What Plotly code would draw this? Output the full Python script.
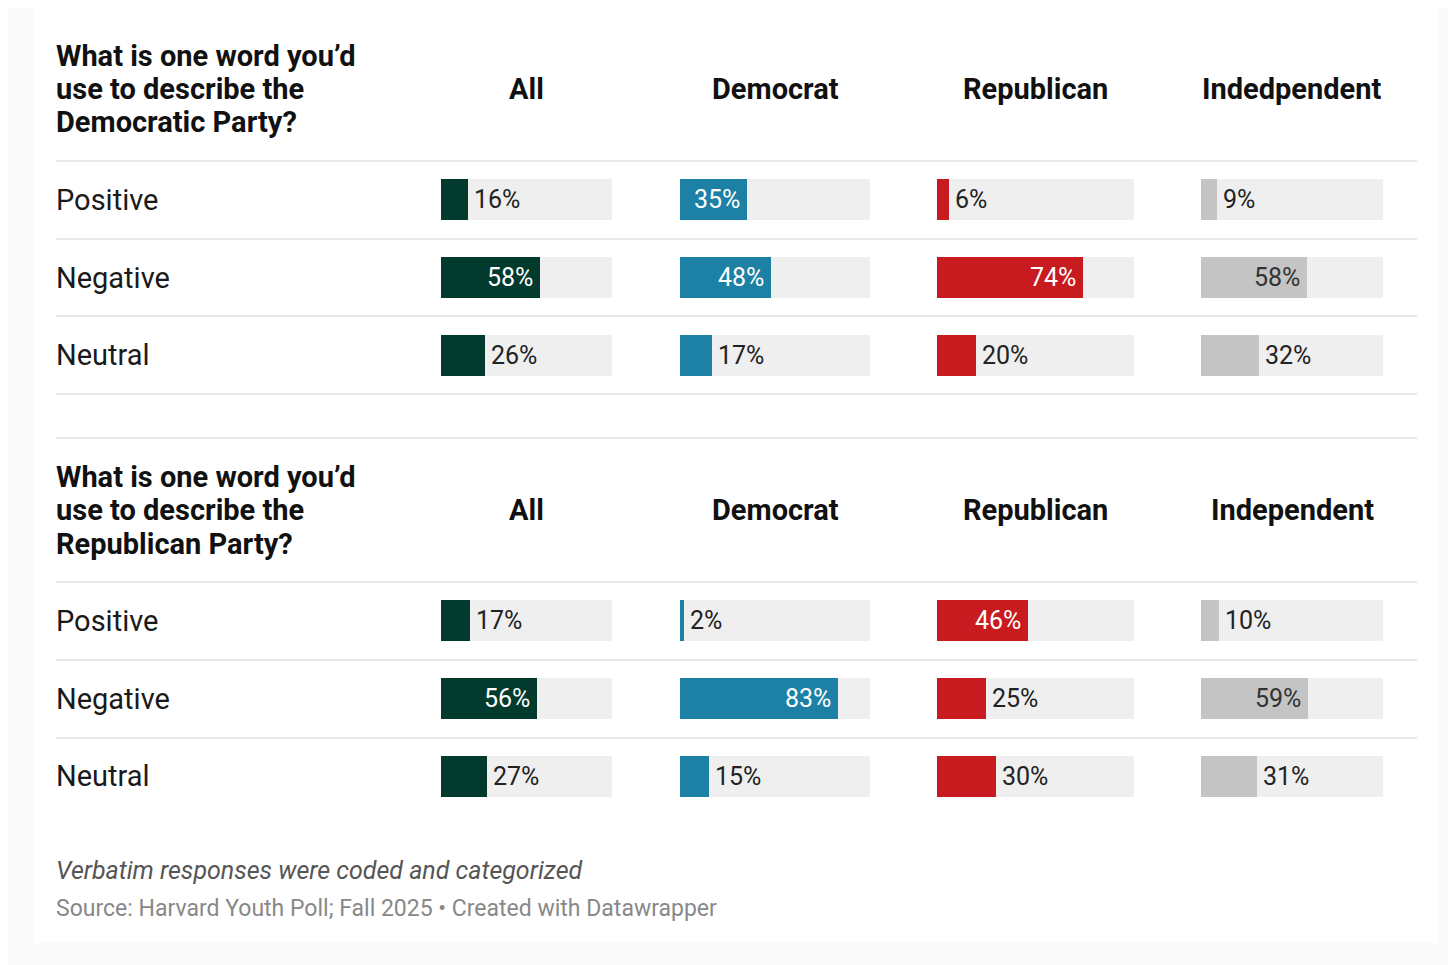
import plotly.graph_objects as go

# the page puts the figure 8px in from the top-left corner
OFF = 8
W, H = 1456 - OFF, 965 - OFF

# ---------------- data ----------------
categories = ["Positive", "Negative", "Neutral"]
headers_dem = ["All", "Democrat", "Republican", "Indedpendent"]
headers_rep = ["All", "Democrat", "Republican", "Independent"]
title_dem = ["What is one word you’d", "use to describe the", "Democratic Party?"]
title_rep = ["What is one word you’d", "use to describe the", "Republican Party?"]

dem_all = [16, 58, 26]
dem_dem = [35, 48, 17]
dem_rep = [6, 74, 20]
dem_ind = [9, 58, 32]

rep_all = [17, 56, 27]
rep_dem = [2, 83, 15]
rep_rep = [46, 25, 30]
rep_ind = [10, 59, 31]

note = "Verbatim responses were coded and categorized"
source = "Source: Harvard Youth Poll; Fall 2025 • Created with Datawrapper"

# ---------------- styling / layout ----------------
bar_colors = ["#023a2e", "#1c81a4", "#c81b1f", "#c4c4c4"]
inside_text_colors = ["#ffffff", "#ffffff", "#ffffff", "#333333"]
track_color = "#efefef"
line_color = "#e8e8e8"
FONT = "Roboto"

col_px = [(441, 612), (680, 870), (937, 1134), (1201, 1383)]
panel_px = [(161, 394), (582, 815)]
title_y = [(56, 89, 122), (477, 510, 544)]
header_y = [89, 510]
line_rows = [[161, 239, 316, 394], [438, 582, 660, 738]]


def px(x):
    return (x - OFF) / W


def py(y):
    return 1 - (y - OFF) / H


panels = [
    (title_dem, headers_dem, [dem_all, dem_dem, dem_rep, dem_ind]),
    (title_rep, headers_rep, [rep_all, rep_dem, rep_rep, rep_ind]),
]

fig = go.Figure()
annotations = []
shapes = []

# card background
shapes.append(dict(type="rect", xref="paper", yref="paper", x0=px(34), x1=px(1438),
                   y0=py(943), y1=1, fillcolor="#ffffff", line=dict(width=0), layer="below"))

idx = 0
for p, (title, headers, series) in enumerate(panels):
    y0, y1 = panel_px[p]
    for c, vals in enumerate(series):
        idx += 1
        xa = "x" if idx == 1 else f"x{idx}"
        ya = "y" if idx == 1 else f"y{idx}"
        xk = "xaxis" if idx == 1 else f"xaxis{idx}"
        yk = "yaxis" if idx == 1 else f"yaxis{idx}"
        x0, x1 = col_px[c]
        fig.add_trace(go.Bar(y=categories, x=[100] * len(categories), orientation="h",
                             marker=dict(color=track_color, line=dict(width=0)),
                             width=0.53, xaxis=xa, yaxis=ya, hoverinfo="skip", showlegend=False))
        fig.add_trace(go.Bar(y=categories, x=vals, orientation="h",
                             marker=dict(color=bar_colors[c], line=dict(width=0)),
                             width=0.53, xaxis=xa, yaxis=ya, showlegend=False,
                             hovertemplate="%{y}: %{x}%<extra></extra>"))
        fig.layout[xk] = dict(domain=[px(x0), px(x1)], range=[0, 100], visible=False,
                              fixedrange=True, anchor=ya)
        fig.layout[yk] = dict(domain=[py(y1), py(y0)], type="category",
                              categoryarray=categories, range=[2.5, -0.5], visible=False,
                              fixedrange=True, anchor=xa)
        for cat, v in zip(categories, vals):
            inside = v >= 35
            annotations.append(dict(
                xref=xa, yref=ya, x=v, y=cat, text=f"{v}%", showarrow=False,
                xanchor="right" if inside else "left", xshift=-7 if inside else 6,
                yanchor="middle",
                font=dict(family=FONT, size=25,
                          color=inside_text_colors[c] if inside else "#222222")))
        # row labels, using the first column's axis for vertical placement
        if c == 0:
            for cat in categories:
                annotations.append(dict(xref="paper", yref=ya, x=px(56), y=cat, text=cat,
                                        showarrow=False, xanchor="left", yanchor="middle",
                                        font=dict(family=FONT, size=29, color="#1a1a1a")))
        # column headers
        annotations.append(dict(xref="paper", yref="paper", x=px((x0 + x1) / 2),
                                y=py(header_y[p]), text=f"<b>{headers[c]}</b>",
                                showarrow=False, xanchor="center", yanchor="middle",
                                font=dict(family=FONT, size=29, color="#111111")))
    # title lines
    for line, ty in zip(title, title_y[p]):
        annotations.append(dict(xref="paper", yref="paper", x=px(56), y=py(ty),
                                text=f"<b>{line}</b>", showarrow=False, xanchor="left",
                                yanchor="middle",
                                font=dict(family=FONT, size=29, color="#111111")))
    # separator lines
    for ly in line_rows[p]:
        shapes.append(dict(type="line", xref="paper", yref="paper", x0=px(56), x1=px(1417),
                           y0=py(ly), y1=py(ly), line=dict(color=line_color, width=2)))

annotations.append(dict(xref="paper", yref="paper", x=px(56), y=py(870), text=f"<i>{note}</i>",
                        showarrow=False, xanchor="left", yanchor="middle",
                        font=dict(family=FONT, size=25, color="#555555")))
annotations.append(dict(xref="paper", yref="paper", x=px(56), y=py(908), text=source,
                        showarrow=False, xanchor="left", yanchor="middle",
                        font=dict(family=FONT, size=23, color="#888888")))

for a in annotations:
    a["borderpad"] = 0
    a["borderwidth"] = 0

fig.update_layout(width=W, height=H, margin=dict(l=0, r=0, t=0, b=0),
                  paper_bgcolor="#fafafa", plot_bgcolor="rgba(0,0,0,0)",
                  barmode="overlay", bargap=0, showlegend=False,
                  annotations=annotations, shapes=shapes,
                  font=dict(family=FONT))

fig.write_html("out.html", config={"displayModeBar": False})
